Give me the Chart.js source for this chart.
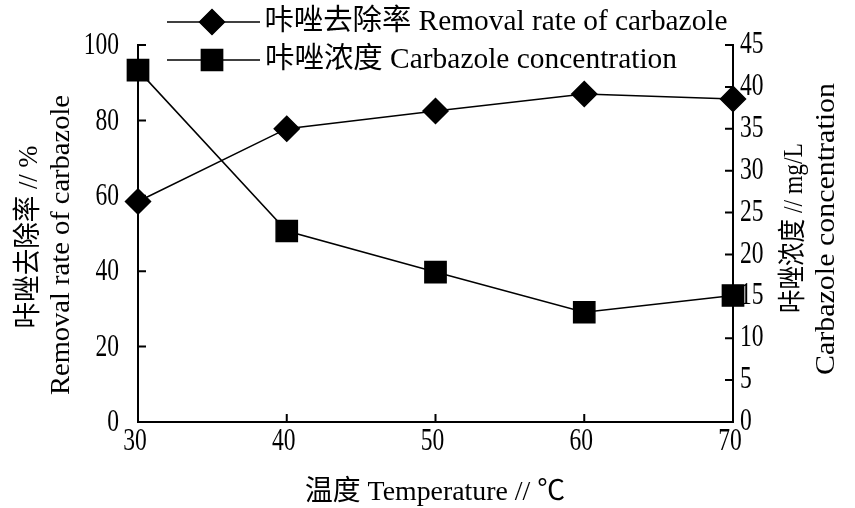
<!DOCTYPE html>
<html>
<head>
<meta charset="utf-8">
<script src="https://cdn.jsdelivr.net/npm/chart.js@4/dist/chart.umd.min.js"></script>
<style>
html,body{margin:0;padding:0;background:#fff;}
#wrap{width:855px;height:508px;position:relative;}
</style>
</head>
<body>
<div id="wrap"><canvas id="c" width="855" height="508"></canvas></div>
<script>
// ---- data ----
const temperatures = [30, 40, 50, 60, 70];
const removalRate = [58.5, 77.8, 82.5, 87.0, 85.7];
const concentration = [42.0, 22.8, 17.9, 13.1, 15.1];
const seriesNames = ['咔唑去除率 Removal rate of carbazole', '咔唑浓度 Carbazole concentration'];
const leftTitle = ['咔唑去除率 // %', 'Removal rate of carbazole'];
const rightTitle = ['咔唑浓度 // mg/L', 'Carbazole concentration'];
const xTitle = '温度 Temperature // ℃';

const FONT = '"Liberation Serif", "Noto Sans CJK SC", serif';

function drawFit(ctx, text, cx, cy, width, size, rot) {
  ctx.save();
  ctx.font = size + 'px ' + FONT;
  ctx.fillStyle = '#000';
  ctx.textAlign = 'center';
  ctx.textBaseline = 'middle';
  const w = ctx.measureText(text).width;
  ctx.translate(cx, cy);
  if (rot) ctx.rotate(rot);
  ctx.scale(width / w, 1);
  ctx.fillText(text, 0, 0);
  ctx.restore();
}

// condensed number label; align: 'left' | 'right' | 'center'
function drawNum(ctx, text, x, y, align) {
  const size = 31, sx = 0.76;
  ctx.save();
  ctx.font = size + 'px ' + FONT;
  ctx.fillStyle = '#000';
  ctx.textBaseline = 'middle';
  ctx.textAlign = align;
  ctx.translate(x, y);
  ctx.scale(sx, 1);
  ctx.fillText(text, 0, 0);
  ctx.restore();
}

const decor = {
  id: 'decor',
  afterDraw(chart) {
    const ctx = chart.ctx;
    const ca = chart.chartArea;
    const yl = chart.scales.y, yr = chart.scales.y2, x = chart.scales.x;
    ctx.save();
    ctx.strokeStyle = '#000';
    ctx.lineWidth = 2;
    const T = 8;
    ctx.beginPath();
    yl.ticks.forEach((t, i) => {
      const p = yl.getPixelForTick(i);
      drawNum(ctx, String(t.value), ca.left - 19, p + 1, 'right');
      if (t.value === 0) return;
      ctx.moveTo(ca.left, p); ctx.lineTo(ca.left + T, p);
    });
    yr.ticks.forEach((t, i) => {
      const p = yr.getPixelForTick(i);
      drawNum(ctx, String(t.value), ca.right + 7, p, 'left');
      if (t.value === 0) return;
      ctx.moveTo(ca.right, p); ctx.lineTo(ca.right - T, p);
    });
    x.ticks.forEach((t, i) => {
      const p = x.getPixelForTick(i);
      drawNum(ctx, String(t.value), p - 3, ca.bottom + 20, 'center');
      if (t.value === 30 || t.value === 70) return;
      ctx.moveTo(p, ca.bottom); ctx.lineTo(p, ca.bottom - T);
    });
    ctx.stroke();

    // legend
    ctx.lineWidth = 1.5;
    const rows = [{y: 22, ds: 0}, {y: 60, ds: 1}];
    rows.forEach(r => {
      ctx.beginPath();
      ctx.moveTo(167, r.y); ctx.lineTo(260, r.y);
      ctx.stroke();
      const d = chart.data.datasets[r.ds];
      Chart.helpers.drawPoint(ctx, {pointStyle: d.pointStyle, radius: d.pointRadius, borderWidth: 1}, 212, r.y);
      ctx.fillStyle = '#000';
      ctx.fill();
    });
    drawFit(ctx, seriesNames[0], 496, 22, 463, 29, 0);
    drawFit(ctx, seriesNames[1], 471, 60, 412, 29, 0);

    // axis titles
    drawFit(ctx, leftTitle[0], 30, 237, 183, 28, -Math.PI / 2);
    drawFit(ctx, leftTitle[1], 62, 245, 300, 28, -Math.PI / 2);
    drawFit(ctx, rightTitle[0], 795, 228, 170, 28, -Math.PI / 2);
    drawFit(ctx, rightTitle[1], 827, 229, 292, 28, -Math.PI / 2);
    drawFit(ctx, xTitle, 435, 493, 260, 28, 0);
    ctx.restore();
  }
};

new Chart(document.getElementById('c'), {
  type: 'line',
  data: {
    datasets: [
      {
        label: seriesNames[0],
        data: temperatures.map((t, i) => ({x: t, y: removalRate[i]})),
        yAxisID: 'y',
        borderColor: '#000', backgroundColor: '#000', borderWidth: 1.5,
        pointStyle: 'rectRot', pointRadius: 12.5,
        pointBackgroundColor: '#000', pointBorderColor: '#000',
        tension: 0, clip: false
      },
      {
        label: seriesNames[1],
        data: temperatures.map((t, i) => ({x: t, y: concentration[i]})),
        yAxisID: 'y2',
        borderColor: '#000', backgroundColor: '#000', borderWidth: 1.5,
        pointStyle: 'rect', pointRadius: 15,
        pointBackgroundColor: '#000', pointBorderColor: '#000',
        tension: 0, clip: false
      }
    ]
  },
  options: {
    responsive: false,
    animation: false,
    devicePixelRatio: 1,
    layout: {padding: {top: 45, left: 0, right: 0, bottom: 0}},
    plugins: {legend: {display: false}, tooltip: {enabled: false}},
    scales: {
      x: {
        type: 'linear', min: 30, max: 70,
        ticks: {stepSize: 10, display: false},
        grid: {display: true, drawOnChartArea: false, drawTicks: false},
        border: {display: true, color: '#000', width: 2},
        afterFit(s) { s.height = 86; }
      },
      y: {
        position: 'left', min: 0, max: 100,
        ticks: {stepSize: 20, display: false},
        grid: {display: true, drawOnChartArea: false, drawTicks: false},
        border: {display: true, color: '#000', width: 2},
        afterFit(s) { s.width = 138; }
      },
      y2: {
        position: 'right', min: 0, max: 45,
        ticks: {stepSize: 5, display: false},
        grid: {display: true, drawOnChartArea: false, drawTicks: false},
        border: {display: true, color: '#000', width: 2},
        afterFit(s) { s.width = 122; }
      }
    }
  },
  plugins: [decor]
});
</script>
</body>
</html>
